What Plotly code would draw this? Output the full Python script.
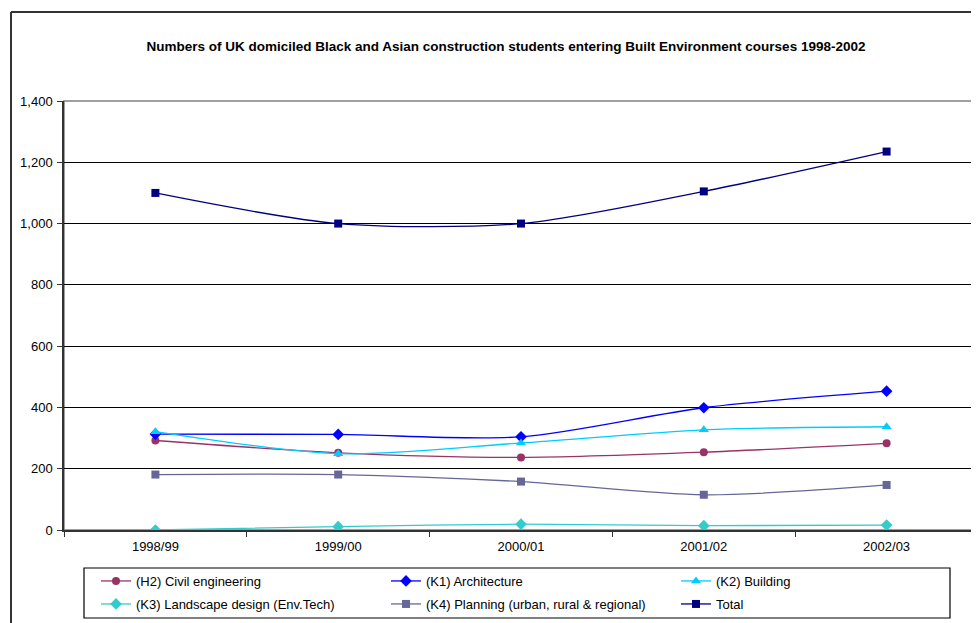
import plotly.graph_objects as go

years = ["1998/99", "1999/00", "2000/01", "2001/02", "2002/03"]
civil_eng = [292, 252, 237, 254, 283]
architecture = [313, 312, 304, 399, 453]
building = [321, 249, 284, 327, 337]
landscape = [0, 11, 19, 14, 16]
planning = [181, 181, 158, 115, 147]
total = [1100, 1000, 1000, 1105, 1235]

series = [
    ("(H2) Civil engineering", civil_eng, "#993366", "circle", 8, "legend"),
    ("(K1) Architecture", architecture, "#0000FF", "diamond", 9, "legend"),
    ("(K2) Building", building, "#00CCFF", "triangle-up", 9, "legend"),
    ("(K3) Landscape design (Env.Tech)", landscape, "#33CCCC", "diamond", 9, "legend2"),
    ("(K4) Planning (urban, rural & regional)", planning, "#666699", "square", 8, "legend2"),
    ("Total", total, "#000080", "square", 8, "legend2"),
]

fig = go.Figure()
for name, vals, color, sym, size, lg in series:
    fig.add_trace(go.Scatter(
        x=years, y=vals, name=name, mode="lines+markers", legend=lg,
        line=dict(color=color, width=1.3, shape="spline", smoothing=0.8),
        marker=dict(symbol=sym, size=size, color=color),
    ))

# page body has an 8px margin; work in reference pixel coords and shift
OFF = 8
W, H = 979 - OFF, 623 - OFF
PL, PR, PT, PB = 64, 978, 101, 530  # plot area in reference pixels
L, R, T, B = PL - OFF, W - (PR - OFF), PT - OFF, H - (PB - OFF)
pw, ph = PR - PL, PB - PT

def px_x(p):
    return (p - PL) / pw

def px_y(p):
    return (PB - p) / ph

legend_common = dict(
    orientation="h", xanchor="left", yanchor="middle",
    borderwidth=0, bgcolor="rgba(0,0,0,0)", entrywidth=245,
    entrywidthmode="pixels", font=dict(size=13), traceorder="normal",
)

fig.update_layout(
    width=W, height=H,
    margin=dict(l=L, r=R, t=T, b=B),
    paper_bgcolor="white", plot_bgcolor="white",
    font=dict(family="Liberation Sans, Arial, sans-serif", size=13, color="black"),
    title=dict(
        text="<b>Numbers of UK domiciled Black and Asian construction students entering Built Environment courses 1998-2002</b>",
        x=(506 - OFF) / W, xref="container", xanchor="center",
        y=1 - (46 - OFF) / H, yref="container", yanchor="middle",
        font=dict(size=13.5, color="black"),
    ),
    xaxis=dict(
        type="category", tickson="boundaries", ticks="outside", ticklen=5,
        tickcolor="#333", showgrid=False, showline=True, linecolor="#333",
        linewidth=1.5, range=[-0.5, 4.5], zeroline=False, ticklabelstandoff=4,
    ),
    yaxis=dict(
        range=[0, 1400], dtick=200, tickformat=",d", ticks="outside", ticklen=5,
        tickcolor="#333", showgrid=True, gridcolor="black", gridwidth=1,
        showline=True, linecolor="#333", linewidth=1.5, zeroline=False,
        ticklabelstandoff=2,
    ),
    legend=dict(x=px_x(96), y=px_y(581), **legend_common),
    legend2=dict(x=px_x(96), y=px_y(604), **legend_common),
    showlegend=True,
    shapes=[
        dict(type="rect", xref="paper", yref="paper", x0=0, x1=1, y0=0, y1=1,
             line=dict(color="#808080", width=1.5), layer="below"),
        dict(type="rect", xref="paper", yref="paper", x0=px_x(84), x1=px_x(950),
             y0=px_y(568), y1=px_y(618), line=dict(color="black", width=1.2)),
        dict(type="line", xref="paper", yref="paper", x0=px_x(11), x1=px_x(11),
             y0=px_y(12), y1=px_y(640), line=dict(color="#333", width=2)),
        dict(type="line", xref="paper", yref="paper", x0=px_x(11), x1=px_x(990),
             y0=px_y(12), y1=px_y(12), line=dict(color="#333", width=2)),
    ],
)

fig.write_html("out.html")
